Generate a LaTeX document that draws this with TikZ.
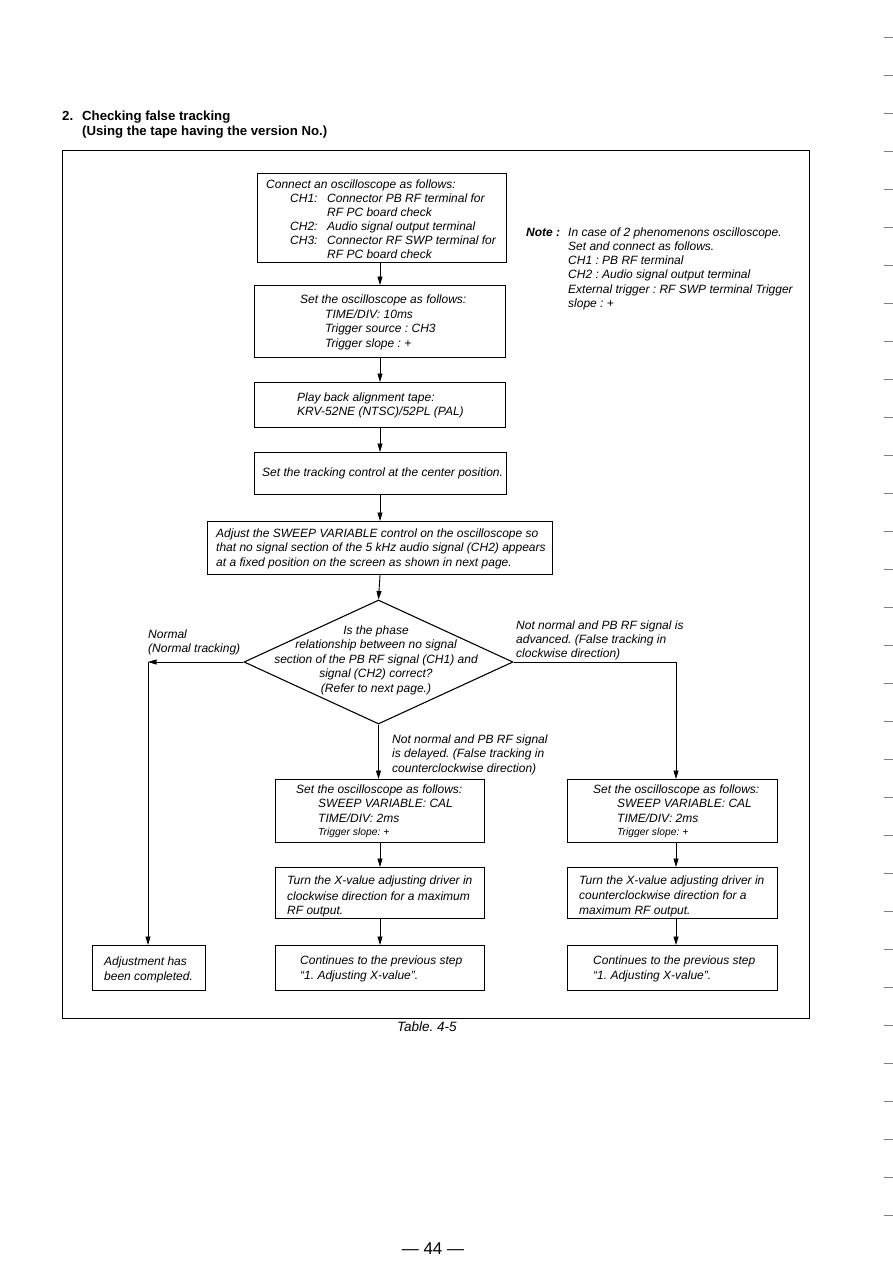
\documentclass[tikz,border=0pt]{standalone}
\usepackage{fontspec}
\setmainfont{Liberation Sans}
\usetikzlibrary{arrows.meta,shapes.geometric}
\frenchspacing
\begin{document}
\frenchspacing
\begin{tikzpicture}[x=1pt,y=-1pt,
  box/.style={draw, line width=1.1pt, anchor=north west, inner sep=0pt},
  txt/.style={anchor=base west, inner sep=0pt, font=\itshape\fontsize{12}{14}\selectfont},
  stxt/.style={anchor=base west, inner sep=0pt, font=\itshape\fontsize{10.3}{13}\selectfont},
  ctxt/.style={anchor=base, inner sep=0pt, font=\itshape\fontsize{12}{14}\selectfont},
  head/.style={anchor=base west, inner sep=0pt, font=\bfseries\fontsize{13.2}{15}\selectfont},
  arr/.style={-{Triangle[length=8.5pt,width=5pt]}, line width=0.9pt},
  ln/.style={line width=0.9pt}]
\useasboundingbox (0,0) rectangle (893,1263);
% margin ticks
\foreach \yy in {37,75,...,1215} \draw[gray, line width=0.8pt] (884,\yy) -- (893,\yy);
% header
\node[head] (h1) at (62,120) {2.};
\node[head] (h2) at (82,120) {Checking false tracking};
\node[head] (h3) at (82,135) {(Using the tape having the version No.)};
% frame
\node[box, line width=1pt, minimum width=747pt, minimum height=868pt] (frame) at (62,150) {};
% box 1
\node[box, minimum width=249pt, minimum height=89pt] (b1) at (257,173) {};
\node[txt] (t11) at (266,188) {Connect an oscilloscope as follows:};
\node[txt] (t12) at (290,202) {CH1:};
\node[txt] (t13) at (327,202) {Connector PB RF terminal for};
\node[txt] (t14) at (327,216) {RF PC board check};
\node[txt] (t15) at (290,230) {CH2:};
\node[txt] (t16) at (327,230) {Audio signal output terminal};
\node[txt] (t17) at (290,244) {CH3:};
\node[txt] (t18) at (327,244) {Connector RF SWP terminal for};
\node[txt] (t19) at (327,258) {RF PC board check};
% box 2
\node[box, minimum width=251pt, minimum height=72pt] (b2) at (254,285) {};
\node[txt] (t21) at (300,303) {Set the oscilloscope as follows:};
\node[txt] (t22) at (325,318) {TIME/DIV: 10ms};
\node[txt] (t23) at (325,332) {Trigger source : CH3};
\node[txt] (t24) at (325,347) {Trigger slope : +};
% box 3
\node[box, minimum width=251pt, minimum height=45pt] (b3) at (254,382) {};
\node[txt] (t31) at (297,401) {Play back alignment tape:};
\node[txt] (t32) at (297,415) {KRV-52NE (NTSC)/52PL (PAL)};
% box 4
\node[box, minimum width=252pt, minimum height=42pt] (b4) at (254,452) {};
\node[txt] (t41) at (262,476) {Set the tracking control at the center position.};
% box 5
\node[box, minimum width=345pt, minimum height=53pt] (b5) at (207,521) {};
\node[txt] (t51) at (216,537) {Adjust the SWEEP VARIABLE control on the oscilloscope so};
\node[txt] (t52) at (216,551) {that no signal section of the 5 kHz audio signal (CH2) appears};
\node[txt] (t53) at (216,566) {at a fixed position on the screen as shown in next page.};
% note
\node[anchor=base west, inner sep=0pt, font=\bfseries\itshape\fontsize{12}{14}\selectfont] (n0) at (526,236) {Note :};
\node[txt] (n1) at (568,236) {In case of 2 phenomenons oscilloscope.};
\node[txt] (n2) at (568,250) {Set and connect as follows.};
\node[txt] (n3) at (568,264) {CH1 : PB RF terminal};
\node[txt] (n4) at (568,278) {CH2 : Audio signal output terminal};
\node[txt] (n5) at (568,293) {External trigger : RF SWP terminal Trigger};
\node[txt] (n6) at (568,307) {slope : +};
% diamond
\node[draw, diamond, line width=1.1pt, inner sep=0pt, minimum width=269pt, minimum height=124pt] (d) at (378.5,662) {};
\node[ctxt] (d1) at (376,634) {Is the phase};
\node[ctxt] (d2) at (376,648) {relationship between no signal};
\node[ctxt] (d3) at (376,663) {section of the PB RF signal (CH1) and};
\node[ctxt] (d4) at (376,677) {signal (CH2) correct?};
\node[ctxt] (d5) at (376,692) {(Refer to next page.)};
% branch labels
\node[txt] (l1) at (148,638) {Normal};
\node[txt] (l2) at (148,652) {(Normal tracking)};
\node[txt] (r1) at (516,629) {Not normal and PB RF signal is};
\node[txt] (r2) at (516,643) {advanced. (False tracking in};
\node[txt] (r3) at (516,657) {clockwise direction)};
\node[txt] (m1) at (392,743) {Not normal and PB RF signal};
\node[txt] (m2) at (392,757) {is delayed. (False tracking in};
\node[txt] (m3) at (392,772) {counterclockwise direction)};
% left box
\node[box, minimum width=113pt, minimum height=45pt] (b12) at (92,945) {};
\node[txt] (t121) at (104,965) {Adjustment has};
\node[txt] (t122) at (104,980) {been completed.};
% middle column
\node[box, minimum width=209pt, minimum height=63pt] (b6) at (275,779) {};
\node[txt] (t61) at (296,793) {Set the oscilloscope as follows:};
\node[txt] (t62) at (318,807) {SWEEP VARIABLE: CAL};
\node[txt] (t63) at (318,822) {TIME/DIV: 2ms};
\node[stxt] (t64) at (318,835) {Trigger slope: +};
\node[box, minimum width=209pt, minimum height=51pt] (b7) at (275,867) {};
\node[txt] (t71) at (287,884) {Turn the X-value adjusting driver in};
\node[txt] (t72) at (287,900) {clockwise direction for a maximum};
\node[txt] (t73) at (287,914) {RF output.};
\node[box, minimum width=209pt, minimum height=45pt] (b8) at (275,945) {};
\node[txt] (t81) at (300,964) {Continues to the previous step};
\node[txt] (t82) at (300,979) {“1. Adjusting X-value”.};
% right column
\node[box, minimum width=210pt, minimum height=63pt] (b9) at (567,779) {};
\node[txt] (t91) at (593,793) {Set the oscilloscope as follows:};
\node[txt] (t92) at (617,807) {SWEEP VARIABLE: CAL};
\node[txt] (t93) at (617,822) {TIME/DIV: 2ms};
\node[stxt] (t94) at (617,835) {Trigger slope: +};
\node[box, minimum width=210pt, minimum height=51pt] (b10) at (567,867) {};
\node[txt] (t101) at (579,884) {Turn the X-value adjusting driver in};
\node[txt] (t102) at (579,899) {counterclockwise direction for a};
\node[txt] (t103) at (579,914) {maximum RF output.};
\node[box, minimum width=210pt, minimum height=45pt] (b11) at (567,945) {};
\node[txt] (t111) at (593,964) {Continues to the previous step};
\node[txt] (t112) at (593,979) {“1. Adjusting X-value”.};
% captions
\node[anchor=base west, inner sep=0pt, font=\itshape\fontsize{13.5}{16}\selectfont] (cap) at (397,1031) {Table. 4-5};
\node[anchor=base, inner sep=0pt, font=\fontsize{17}{20}\selectfont] (pg) at (433,1254) {— 44 —};
% connectors
\coordinate (x0) at (380,0);
\draw[arr] (x0 |- b1.south) -- (x0 |- b2.north);
\draw[arr] (x0 |- b2.south) -- (x0 |- b3.north);
\draw[arr] (x0 |- b3.south) -- (x0 |- b4.north);
\draw[arr] (x0 |- b4.south) -- (x0 |- b5.north);
\draw[arr] (x0 |- b5.south) -- (d.north);
\draw[arr] (d.south) -- (d.south |- b6.north);
\coordinate (cL) at (148,662);
\coordinate (cR) at (676,662);
\draw[arr] (d.west) -- (cL);
\draw[arr] (cL) -- (cL |- b12.north);
\draw[arr] (d.east) -- (cR) -- (cR |- b9.north);
\coordinate (xm) at (380,0);
\draw[arr] (xm |- b6.south) -- (xm |- b7.north);
\draw[arr] (xm |- b7.south) -- (xm |- b8.north);
\draw[arr] (cR |- b9.south) -- (cR |- b10.north);
\draw[arr] (cR |- b10.south) -- (cR |- b11.north);
\end{tikzpicture}
\end{document}
